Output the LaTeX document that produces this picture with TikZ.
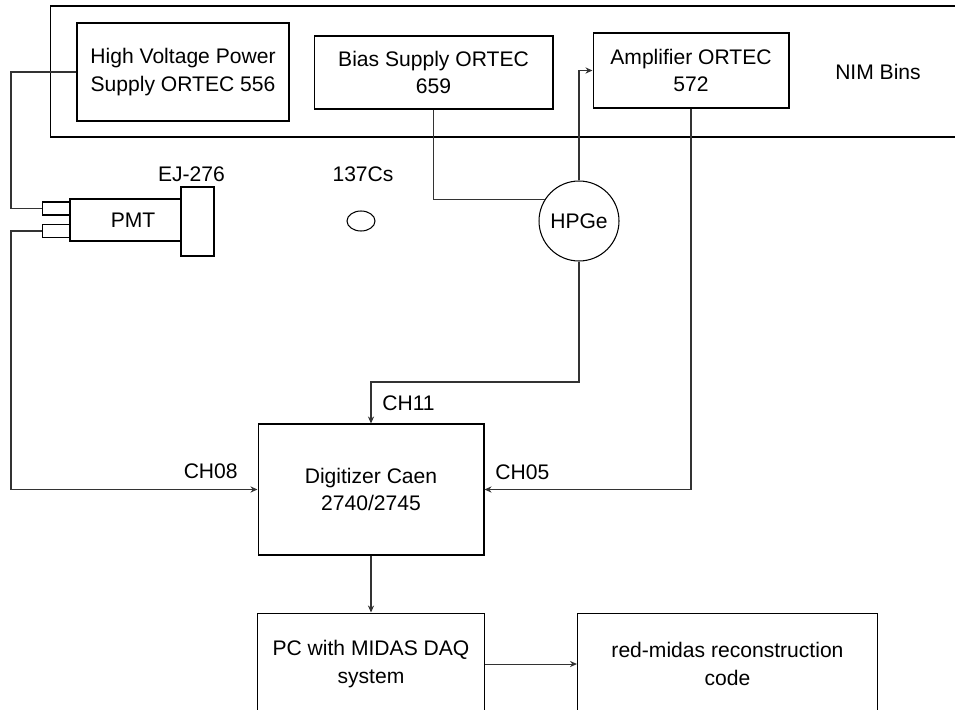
\documentclass[tikz,border=0pt]{standalone}
\usepackage{fontspec}
\setmainfont{Liberation Sans}
\usetikzlibrary{positioning, arrows.meta, shapes.geometric, calc}
\tikzset{module/.style={draw, line width=0.6pt, align=center, font=\fontsize{12}{15.5}\selectfont, inner sep=0pt},
tag/.style={font=\fontsize{12}{15.5}\selectfont, inner sep=0pt},
wire/.style={line width=0.6pt, draw=black!80},
cable/.style={wire, -{Stealth[length=4pt, width=3.5pt]}}}

\begin{document}
\begin{tikzpicture}[x=0.02cm, y=-0.02cm]
  \useasboundingbox (0,0) rectangle (955,709);
  \clip (0,0) rectangle (955,709);
  % NIM crate
  \node[module, minimum width=19cm, minimum height=2.62cm] (nim) at (525,71.5) {};
  \node[tag] (nimlbl) at (878,72) {NIM Bins};
  \node[module, minimum width=4.24cm, minimum height=1.96cm] (hv) at (183,72) {High Voltage Power\\Supply ORTEC 556};
  \node[module, minimum width=4.78cm, minimum height=1.46cm] (bias) at (433.5,72.5) {Bias Supply ORTEC\\659};
  \node[module, minimum width=3.92cm, minimum height=1.5cm] (amp) at (691,70.5) {Amplifier ORTEC\\572};
  % detectors and source
  \node[module, minimum width=2.52cm, minimum height=0.84cm] (pmt) at (133,220) {PMT};
  \node[module, fill=white, minimum width=0.66cm, minimum height=1.38cm] (ej) at (197.5,221.5) {};
  \node[module, minimum width=0.54cm, minimum height=0.26cm, anchor=east] (hvpin) at (70,208.5) {};
  \node[module, minimum width=0.54cm, minimum height=0.27cm, anchor=east] (sigpin) at (70,231) {};
  \node[tag, anchor=base] (ejlbl) at (191.5,182) {EJ-276};
  \node[module, ellipse, minimum width=0.56cm, minimum height=0.4cm] (cs) at (361,221) {};
  \node[tag, anchor=base] (cslbl) at (363,182) {137Cs};
  \node[module, circle, minimum size=1.6cm] (hpge) at (579,221) {HPGe};
  % DAQ chain
  \node[module, minimum width=4.52cm, minimum height=2.62cm] (dig) at (371,489.5) {Digitizer Caen\\2740/2745};
  \node[module, minimum width=4.54cm, minimum height=2.04cm, below=1.14cm of dig] (pc) {PC with MIDAS DAQ\\system};
  \node[module, minimum width=6cm, minimum height=2.04cm, right=1.84cm of pc] (reco) {red-midas reconstruction\\code};
  % cables
  \coordinate (lft) at (11,0);
  \coordinate (gebend) at (0,382);
  \draw[wire] (hv.west) -| (lft |- hvpin.west) -- (hvpin.west);
  \draw[cable] (sigpin.west) -- (lft |- sigpin.west) |- (dig.west);
  \draw[wire] (bias.south) |- (hpge.148);
  \draw[cable] (hpge.north) |- (amp.west);
  \draw[cable] (hpge.south) |- (dig.north |- gebend) -- (dig.north);
  \draw[cable] (amp.south) |- (dig.east);
  \draw[cable] (dig.south) -- (pc.north);
  \draw[cable] (pc.east) -- (reco.west);
  % channel tags
  \node[tag, anchor=base east] (ch08) at (238,478) {CH08};
  \node[tag, anchor=base west] (ch05) at (495,479) {CH05};
  \node[tag, anchor=base west] (ch11) at (382,410) {CH11};
\end{tikzpicture}
\end{document}
